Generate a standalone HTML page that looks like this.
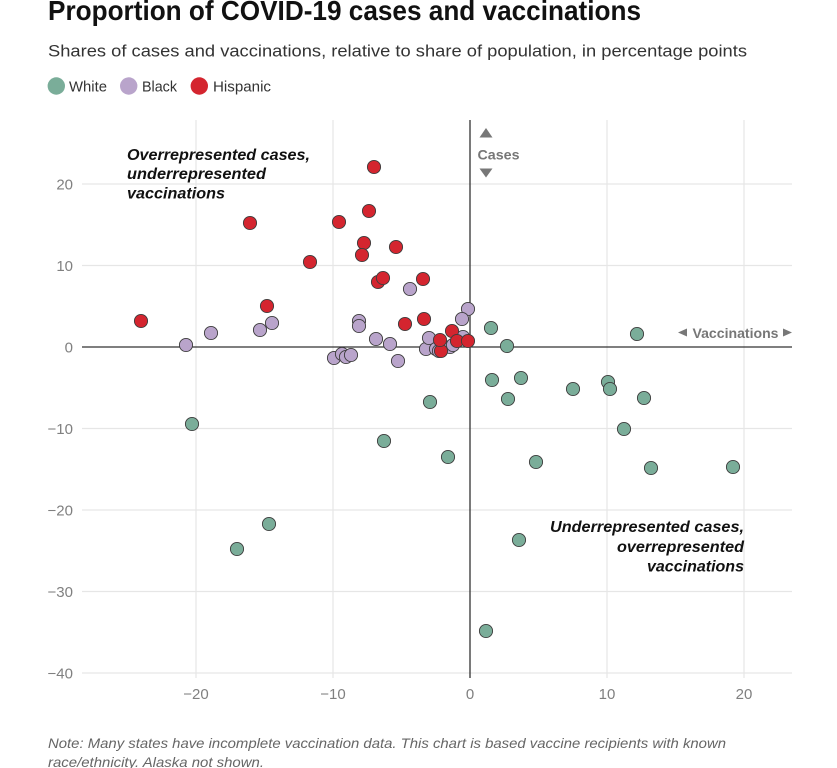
<!DOCTYPE html>
<html><head><meta charset="utf-8"><style>
html,body{margin:0;padding:0;background:#fff;}
svg{display:block;}
text{font-family:"Liberation Sans",Arial,sans-serif;}
</style></head><body>
<svg width="837" height="768" viewBox="0 0 837 768" xmlns="http://www.w3.org/2000/svg">
<rect width="837" height="768" fill="#fff"/>
<!-- Title -->
<text x="48" y="20" font-size="28" font-weight="bold" fill="#111" textLength="593" lengthAdjust="spacingAndGlyphs">Proportion of COVID-19 cases and vaccinations</text>
<text x="48" y="56.5" font-size="17" fill="#333" textLength="699" lengthAdjust="spacingAndGlyphs">Shares of cases and vaccinations, relative to share of population, in percentage points</text>
<!-- Legend -->
<circle cx="56.3" cy="86" r="8.7" fill="#7aad99"/>
<text x="69" y="91.3" font-size="15" fill="#333" textLength="38" lengthAdjust="spacingAndGlyphs">White</text>
<circle cx="128.7" cy="86" r="8.7" fill="#b9a4cb"/>
<text x="142" y="91.3" font-size="15" fill="#333" textLength="35" lengthAdjust="spacingAndGlyphs">Black</text>
<circle cx="199.3" cy="86" r="8.7" fill="#d4252f"/>
<text x="213" y="91.3" font-size="15" fill="#333" textLength="58" lengthAdjust="spacingAndGlyphs">Hispanic</text>

<!-- Grid -->
<g stroke="#e6e6e6" stroke-width="1.2">
<line x1="82" x2="792" y1="184" y2="184"/>
<line x1="82" x2="792" y1="265.5" y2="265.5"/>
<line x1="82" x2="792" y1="428.5" y2="428.5"/>
<line x1="82" x2="792" y1="510" y2="510"/>
<line x1="82" x2="792" y1="591.5" y2="591.5"/>
<line x1="82" x2="792" y1="673" y2="673"/>
<line x1="196" x2="196" y1="120" y2="678"/>
<line x1="333" x2="333" y1="120" y2="678"/>
<line x1="607" x2="607" y1="120" y2="678"/>
<line x1="744" x2="744" y1="120" y2="678"/>
</g>
<!-- Axes -->
<line x1="82" x2="792" y1="347" y2="347" stroke="#333" stroke-width="1.3"/>
<line x1="470" x2="470" y1="120" y2="678" stroke="#333" stroke-width="1.3"/>

<!-- Y labels -->
<g font-size="15" fill="#808080" text-anchor="end">
<text x="73" y="189.5">20</text>
<text x="73" y="271">10</text>
<text x="73" y="352.5">0</text>
<text x="73" y="434">−10</text>
<text x="73" y="515.5">−20</text>
<text x="73" y="597">−30</text>
<text x="73" y="678.5">−40</text>
</g>
<!-- X labels -->
<g font-size="15" fill="#808080" text-anchor="middle">
<text x="196" y="699">−20</text>
<text x="333" y="699">−10</text>
<text x="470" y="699">0</text>
<text x="607" y="699">10</text>
<text x="744" y="699">20</text>
</g>

<!-- Annotations -->
<g font-size="16" font-weight="bold" font-style="italic" fill="#111">
<text x="127" y="160" textLength="183" lengthAdjust="spacingAndGlyphs">Overrepresented cases,</text>
<text x="127" y="179" textLength="139" lengthAdjust="spacingAndGlyphs">underrepresented</text>
<text x="127" y="198.5" textLength="98" lengthAdjust="spacingAndGlyphs">vaccinations</text>
<text x="550" y="532" textLength="194" lengthAdjust="spacingAndGlyphs">Underrepresented cases,</text>
<text x="617" y="552" textLength="127" lengthAdjust="spacingAndGlyphs">overrepresented</text>
<text x="647" y="571.5" textLength="97" lengthAdjust="spacingAndGlyphs">vaccinations</text>
</g>

<!-- Cases / Vaccinations labels -->
<polygon points="486,128 492.5,137.5 479.5,137.5" fill="#777"/>
<text x="477.5" y="159.5" font-size="14" font-weight="bold" fill="#777" textLength="42" lengthAdjust="spacingAndGlyphs">Cases</text>
<polygon points="479.5,168.5 492.5,168.5 486,177.5" fill="#777"/>
<polygon points="678,332.5 687,328.5 687,336.5" fill="#777"/>
<text x="692.5" y="338" font-size="14" font-weight="bold" fill="#777" textLength="86" lengthAdjust="spacingAndGlyphs">Vaccinations</text>
<polygon points="792,332.5 783,328.5 783,336.5" fill="#777"/>

<!-- White (green) -->
<g fill="#7aad99" stroke="#3d3d3d" stroke-width="0.9">
<circle cx="491" cy="328" r="6.6"/>
<circle cx="507" cy="346" r="6.6"/>
<circle cx="637" cy="334" r="6.6"/>
<circle cx="492" cy="380" r="6.6"/>
<circle cx="521" cy="378" r="6.6"/>
<circle cx="508" cy="399" r="6.6"/>
<circle cx="573" cy="389" r="6.6"/>
<circle cx="608" cy="382" r="6.6"/>
<circle cx="610" cy="389" r="6.6"/>
<circle cx="644" cy="398" r="6.6"/>
<circle cx="624" cy="429" r="6.6"/>
<circle cx="536" cy="462" r="6.6"/>
<circle cx="651" cy="468" r="6.6"/>
<circle cx="733" cy="467" r="6.6"/>
<circle cx="519" cy="540" r="6.6"/>
<circle cx="486" cy="631" r="6.6"/>
<circle cx="430" cy="402" r="6.6"/>
<circle cx="384" cy="441" r="6.6"/>
<circle cx="448" cy="457" r="6.6"/>
<circle cx="192" cy="424" r="6.6"/>
<circle cx="237" cy="549" r="6.6"/>
<circle cx="269" cy="524" r="6.6"/>
</g>
<!-- Black (purple) -->
<g fill="#b9a4cb" stroke="#3d3d3d" stroke-width="0.9">
<circle cx="186" cy="345" r="6.6"/>
<circle cx="211" cy="333" r="6.6"/>
<circle cx="260" cy="330" r="6.6"/>
<circle cx="272" cy="323" r="6.6"/>
<circle cx="410" cy="289" r="6.6"/>
<circle cx="468" cy="309" r="6.6"/>
<circle cx="462" cy="319" r="6.6"/>
<circle cx="359" cy="321" r="6.6"/>
<circle cx="359" cy="326" r="6.6"/>
<circle cx="376" cy="339" r="6.6"/>
<circle cx="390" cy="344" r="6.6"/>
<circle cx="334" cy="358" r="6.6"/>
<circle cx="342" cy="354" r="6.6"/>
<circle cx="346" cy="357" r="6.6"/>
<circle cx="351" cy="355" r="6.6"/>
<circle cx="398" cy="361" r="6.6"/>
<circle cx="426" cy="349" r="6.6"/>
<circle cx="429" cy="338" r="6.6"/>
<circle cx="436" cy="349" r="6.6"/>
<circle cx="439" cy="351" r="6.6"/>
<circle cx="450" cy="347" r="6.6"/>
<circle cx="453" cy="345" r="6.6"/>
<circle cx="463" cy="337" r="6.6"/>
</g>
<!-- Hispanic (red) -->
<g fill="#d4252f" stroke="#3d3d3d" stroke-width="0.9">
<circle cx="141" cy="321" r="6.6"/>
<circle cx="250" cy="223" r="6.6"/>
<circle cx="267" cy="306" r="6.6"/>
<circle cx="374" cy="167" r="6.6"/>
<circle cx="369" cy="211" r="6.6"/>
<circle cx="339" cy="222" r="6.6"/>
<circle cx="364" cy="243" r="6.6"/>
<circle cx="362" cy="255" r="6.6"/>
<circle cx="396" cy="247" r="6.6"/>
<circle cx="310" cy="262" r="6.6"/>
<circle cx="378" cy="282" r="6.6"/>
<circle cx="383" cy="278" r="6.6"/>
<circle cx="423" cy="279" r="6.6"/>
<circle cx="405" cy="324" r="6.6"/>
<circle cx="424" cy="319" r="6.6"/>
<circle cx="452" cy="331" r="6.6"/>
<circle cx="441" cy="351" r="6.6"/>
<circle cx="440" cy="340" r="6.6"/>
<circle cx="457" cy="341" r="6.6"/>
<circle cx="468" cy="341" r="6.6"/>
</g>

<!-- Note -->
<g font-size="14" font-style="italic" fill="#666">
<text x="48" y="748" textLength="678" lengthAdjust="spacingAndGlyphs">Note: Many states have incomplete vaccination data. This chart is based vaccine recipients with known</text>
<text x="48" y="767" textLength="216" lengthAdjust="spacingAndGlyphs">race/ethnicity. Alaska not shown.</text>
</g>
</svg>
</body></html>
